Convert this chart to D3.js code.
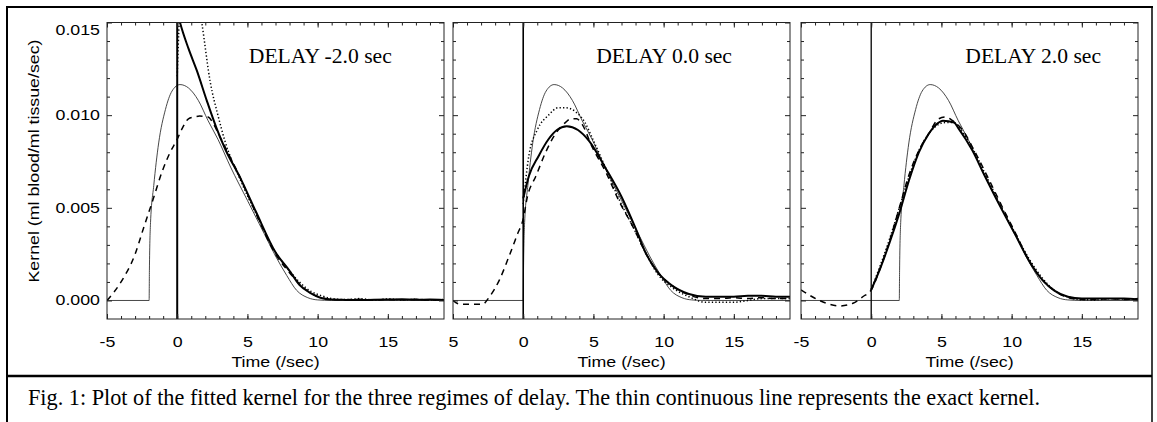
<!DOCTYPE html>
<html>
<head>
<meta charset="utf-8">
<script src="https://cdn.jsdelivr.net/npm/d3@7"></script>
<style>
body { margin: 0; background: #fff; }
svg { display: block; }
.tick text { font-family: "Liberation Sans", Arial, sans-serif; font-size: 14px; fill: #000; }
.tick line { stroke: #222; }
</style>
</head>
<body>
<svg width="1157" height="422"></svg>
<script>
// panels
var delays = [-2.0, 0.0, 2.0];
var panelTitles = ["DELAY -2.0 sec", "DELAY 0.0 sec", "DELAY 2.0 sec"];

// axis ticks
var xMajor = [-5, 0, 5, 10, 15];
var xMinor = d3.range(-4, 19, 1);
var xTickText = [
  ["-5", "0", "5", "10", "15"],
  ["5", "0", "5", "10", "15"],
  ["-5", "0", "5", "10", "15"]
];
var yMajor = [0.000, 0.005, 0.010, 0.015];
var yMinor = [0.001, 0.002, 0.003, 0.004, 0.006, 0.007, 0.008, 0.009, 0.011, 0.012, 0.013, 0.014];

// exact kernel, time measured from the onset (shifted by each delay)
var exactTau = [-30, 0, 0.02, 0.1, 0.33, 0.68, 1.16, 1.63, 2.2, 2.8, 3.5, 4.2, 4.9, 5.8, 7.0, 8.2, 9.0, 9.8, 10.5, 11.3, 12.0, 13.0, 30];
var exactK = [0, 0, 0.0016, 0.0042, 0.0062, 0.0085, 0.0103, 0.0113, 0.01165, 0.01147, 0.0108, 0.0097, 0.0087, 0.0072, 0.0054, 0.0036, 0.0024, 0.00135, 0.00055, 0.00015, 0.00003, 0, 0];

// DELAY -2.0
var thickT1 = [0, 0.2, 0.8, 1.4, 2.1, 2.8, 3.4, 4.5, 5.6, 7.0, 8.0, 8.7, 9.5, 10.2, 11.0, 12, 13, 14, 15, 16, 17, 18, 19];
var thick1 = [0.0156, 0.0150, 0.0136, 0.0124, 0.0108, 0.0093, 0.0082, 0.0066, 0.0048, 0.0026, 0.0016, 0.00085, 0.0004, 0.00015, 0.00005, 0.00003, 0.00002, 0.00004, 0.00005, 0.00006, 0.00004, 0.00005, 0.00003];
var dashT1 = [-5, -4, -3, -2.4, -1.7, -1.1, -0.5, 0, 0.3, 0.8, 1.2, 1.6, 2.2, 2.6, 3.0, 3.4, 4.5, 5.6, 7.0, 8.0, 8.7, 9.5, 10.3, 11, 12, 13, 14, 15, 16, 17, 18, 19];
var dash1 = [0, 0.0010, 0.0025, 0.0039, 0.0055, 0.0069, 0.0080, 0.0087, 0.0092, 0.0098, 0.0099, 0.00995, 0.0099, 0.0095, 0.0089, 0.0083, 0.0066, 0.0047, 0.0025, 0.0015, 0.0009, 0.0004, 0.00015, 0.00005, 0.00004, 0.00006, 0.00003, 0.00005, 0.00004, 0.00006, 0.00003, 0.00005];
var dotT1 = [0, 0.15, 0.4, 1.0, 1.75, 2.35, 2.9, 3.4, 4.5, 5.6, 7.0, 8.0, 8.7, 9.5, 10.3, 11, 12, 13, 14, 15, 16, 17, 18, 19];
var dot1 = [0.0121, 0.0152, 0.0175, 0.0185, 0.0150, 0.0118, 0.0100, 0.0086, 0.0065, 0.0047, 0.0026, 0.0016, 0.0010, 0.0005, 0.00025, 0.0001, 0.00005, 0.0001, 0.00002, 0.00008, 0.00003, 0.00006, 0.00002, 0.00005];

// DELAY 0.0
var thickT2 = [0, 0.4, 1.1, 1.8, 2.4, 3.1, 3.9, 4.7, 5.9, 7.0, 8.0, 8.7, 9.6, 10.6, 11.8, 13, 14, 15, 16, 17, 18, 19];
var thick2 = [0.0055, 0.0067, 0.0078, 0.0087, 0.0092, 0.0094, 0.0092, 0.0086, 0.0071, 0.0056, 0.0039, 0.0026, 0.0015, 0.0008, 0.00035, 0.0002, 0.0002, 0.0002, 0.00025, 0.00025, 0.0002, 0.0002];
var dashT2 = [-5, -4.5, -2.9, -2.4, -1.7, -1.0, -0.4, 0, 0.3, 0.9, 1.6, 2.3, 3.0, 3.4, 3.8, 4.2, 4.9, 5.9, 6.8, 7.8, 8.7, 9.6, 10.6, 11.8, 13, 14, 15, 16, 17, 18, 19];
var dash2 = [0.0000, -0.0002, -0.0002, 0.0002, 0.0011, 0.0024, 0.0036, 0.0044, 0.0056, 0.0067, 0.0080, 0.0090, 0.0096, 0.0098, 0.0098, 0.0095, 0.0083, 0.0069, 0.0054, 0.0040, 0.0026, 0.0015, 0.0008, 0.0003, 0.0001, 0.0001, 0.00015, 0.0001, 0.00015, 0.0001, 0.0001];
var dotT2 = [0, 0.4, 1.0, 1.8, 2.5, 3.0, 3.7, 4.4, 4.9, 5.9, 6.8, 7.8, 8.7, 9.6, 10.6, 11.8, 13, 14, 15, 16, 17, 18, 19];
var dot2 = [0.0052, 0.0078, 0.0092, 0.0100, 0.0104, 0.0104, 0.0102, 0.0096, 0.0088, 0.0071, 0.0055, 0.0040, 0.0026, 0.0014, 0.0007, 0.0002, -0.0001, -0.0001, -0.0001, 0.0, 0.0001, 0.0001, 0.0001];

// DELAY 2.0
var thickT3 = [0, 0.6, 1.3, 2.0, 2.7, 3.4, 4.1, 4.8, 5.1, 5.9, 6.2, 7.2, 8.1, 9.1, 10.3, 11.2, 12.2, 13.1, 14, 15, 16, 17, 18, 19];
var thick3 = [0.00057, 0.00165, 0.0031, 0.0047, 0.0065, 0.0080, 0.0090, 0.0096, 0.0097, 0.0096, 0.0093, 0.0081, 0.0067, 0.0052, 0.0035, 0.0022, 0.0011, 0.0005, 0.0002, 0.0001, 0.0001, 0.0001, 0.0001, 0.00005];
var dashT3 = [-5, -4.2, -3.2, -2.3, -1.3, -0.6, 0, 0.6, 1.3, 2.0, 2.7, 3.4, 4.1, 4.8, 5.3, 5.8, 6.5, 7.4, 8.4, 9.3, 10.3, 11.2, 12.2, 13.1, 14.3, 15, 16, 17, 18, 19];
var dash3 = [0.00057, 0.0002, -0.00015, -0.0003, -0.00015, 0.0002, 0.00057, 0.00165, 0.0032, 0.0050, 0.0068, 0.0081, 0.0090, 0.0098, 0.0099, 0.0097, 0.0092, 0.0080, 0.0065, 0.0051, 0.0036, 0.0022, 0.0011, 0.0005, 0.0001, 0.00005, 0.00005, 0.0001, 0.00005, 0.0001];
var dotT3 = [0, 0.6, 1.3, 2.0, 2.7, 3.4, 4.1, 4.8, 5.3, 5.9, 6.5, 7.3, 8.2, 9.1, 10.2, 11.2, 12.2, 13.1, 14, 15, 16, 17, 18, 19];
var dot3 = [0.0006, 0.0018, 0.0033, 0.0050, 0.0067, 0.0081, 0.0090, 0.0095, 0.0096, 0.0096, 0.0091, 0.0081, 0.0067, 0.0053, 0.0037, 0.0023, 0.0012, 0.0005, 0.0002, 0.00005, 0.00003, 0.0001, 0.00008, 0.0001];

var caption = "Fig. 1: Plot of the fitted kernel for the three regimes of delay. The thin continuous line represents the exact kernel.";

window.addEventListener("load", main);

function pairs(ts, vs) {
  return ts.map(function(t, i) { return [t, vs[i]]; });
}

function main() {
  var svg = d3.select("svg");
  var sx = 1.27; // the original sans labels are wider than Liberation Sans

  var panels = [
    { thick: pairs(thickT1, thick1), dash: pairs(dashT1, dash1), dot: pairs(dotT1, dot1) },
    { thick: pairs(thickT2, thick2), dash: pairs(dashT2, dash2), dot: pairs(dotT2, dot2) },
    { thick: pairs(thickT3, thick3), dash: pairs(dashT3, dash3), dot: pairs(dotT3, dot3) }
  ];

  var lefts = [107, 453, 801],
    plotW = 337,
    top = 22.5,
    bottom = 319,
    titleT = [5.1, 5.2, 6.7],
    zeroWidth = [2, 1.6, 1.3];

  var y = d3.scaleLinear().domain([-0.001, 0.015]).range([bottom, top]);

  // page frame
  svg.append("line").attr("x1", 6).attr("x2", 1153).attr("y1", 7).attr("y2", 7)
    .attr("stroke", "#000").attr("stroke-width", 2);
  svg.append("line").attr("x1", 7).attr("x2", 7).attr("y1", 6).attr("y2", 422)
    .attr("stroke", "#000").attr("stroke-width", 2);
  svg.append("line").attr("x1", 1152).attr("x2", 1152).attr("y1", 6).attr("y2", 422)
    .attr("stroke", "#000").attr("stroke-width", 1.5);
  svg.append("line").attr("x1", 7).attr("x2", 1152).attr("y1", 376).attr("y2", 376)
    .attr("stroke", "#000").attr("stroke-width", 2.5);

  panels.forEach(function(p, i) {
    var x = d3.scaleLinear().domain([-5, 19]).range([lefts[i], lefts[i] + plotW]);
    var g = svg.append("g");

    g.append("clipPath").attr("id", "clip" + i)
      .append("rect")
      .attr("x", lefts[i]).attr("y", top)
      .attr("width", plotW).attr("height", bottom - top);

    var plot = g.append("g").attr("clip-path", "url(#clip" + i + ")");

    var line = d3.line()
      .x(function(d) { return x(d[0]); })
      .y(function(d) { return y(d[1]); })
      .curve(d3.curveMonotoneX);

    var exact = exactTau.map(function(t, j) { return [t + delays[i], exactK[j]]; });

    plot.append("path").datum(exact).attr("d", line)
      .attr("fill", "none").attr("stroke", "#333").attr("stroke-width", 0.9);
    plot.append("path").datum(p.dot).attr("d", line)
      .attr("fill", "none").attr("stroke", "#000").attr("stroke-width", 1.5)
      .attr("stroke-dasharray", "1.3,2.2");
    plot.append("path").datum(p.dash).attr("d", line)
      .attr("fill", "none").attr("stroke", "#000").attr("stroke-width", 1.5)
      .attr("stroke-dasharray", "6,5");
    plot.append("path").datum(p.thick).attr("d", line)
      .attr("fill", "none").attr("stroke", "#000").attr("stroke-width", 2);

    plot.append("line")
      .attr("x1", x(0)).attr("x2", x(0)).attr("y1", top).attr("y2", bottom)
      .attr("stroke", "#000").attr("stroke-width", zeroWidth[i]);

    // ticks
    function noDomain(sel) { sel.select(".domain").remove(); }

    var bx = g.append("g").attr("transform", "translate(0," + bottom + ")");
    bx.append("g").call(d3.axisBottom(x).tickValues(xMinor).tickSize(-3).tickFormat("")).call(noDomain);
    bx.append("g")
      .call(d3.axisBottom(x).tickValues(xMajor).tickSizeInner(-5).tickSizeOuter(0).tickPadding(18)
        .tickFormat(function(d, j) { return xTickText[i][j]; }))
      .call(noDomain);
    bx.selectAll(".tick text").attr("transform", "scale(" + sx + ",1)");

    var tx = g.append("g").attr("transform", "translate(0," + top + ")");
    tx.append("g").call(d3.axisTop(x).tickValues(xMinor).tickSize(-3).tickFormat("")).call(noDomain);
    tx.append("g").call(d3.axisTop(x).tickValues(xMajor).tickSize(-5).tickFormat("")).call(noDomain);

    var ly = g.append("g").attr("transform", "translate(" + lefts[i] + ",0)");
    ly.append("g").call(d3.axisLeft(y).tickValues(yMinor).tickSize(-3).tickFormat("")).call(noDomain);
    var lyMajor = ly.append("g")
      .call(d3.axisLeft(y).tickValues(yMajor).tickSizeInner(-5).tickSizeOuter(0).tickPadding(7)
        .tickFormat(i === 0 ? d3.format(".3f") : ""))
      .call(noDomain);
    lyMajor.selectAll(".tick text")
      .attr("x", null)
      .attr("transform", function(d) {
        return "translate(-7," + (d === 0.015 ? 7.5 : 0) + ") scale(" + sx + ",1)";
      });

    var ry = g.append("g").attr("transform", "translate(" + (lefts[i] + plotW) + ",0)");
    ry.append("g").call(d3.axisRight(y).tickValues(yMinor).tickSize(-3).tickFormat("")).call(noDomain);
    ry.append("g").call(d3.axisRight(y).tickValues(yMajor).tickSize(-5).tickFormat("")).call(noDomain);

    g.append("rect")
      .attr("x", lefts[i]).attr("y", top)
      .attr("width", plotW).attr("height", bottom - top)
      .attr("fill", "none").attr("stroke", "#222").attr("stroke-width", 1);

    g.append("text")
      .attr("x", x(titleT[i])).attr("y", 63)
      .attr("font-family", "'Liberation Serif', 'Times New Roman', serif")
      .attr("font-size", 21.6)
      .text(panelTitles[i]);

    g.append("text")
      .attr("transform", "translate(" + (lefts[i] + plotW / 2) + ",367) scale(" + sx + ",1)")
      .attr("text-anchor", "middle")
      .attr("font-family", "'Liberation Sans', Arial, sans-serif")
      .attr("font-size", 14)
      .text("Time (/sec)");
  });

  svg.append("text")
    .attr("transform", "translate(39,161) rotate(-90) scale(" + sx + ",1)")
    .attr("text-anchor", "middle")
    .attr("font-family", "'Liberation Sans', Arial, sans-serif")
    .attr("font-size", 14)
    .text("Kernel (ml blood/ml tissue/sec)");

  svg.append("text")
    .attr("x", 28).attr("y", 405)
    .attr("font-family", "'Liberation Serif', 'Times New Roman', serif")
    .attr("font-size", 23)
    .attr("textLength", 1012)
    .attr("lengthAdjust", "spacingAndGlyphs")
    .text(caption);
}
</script>
</body>
</html>
